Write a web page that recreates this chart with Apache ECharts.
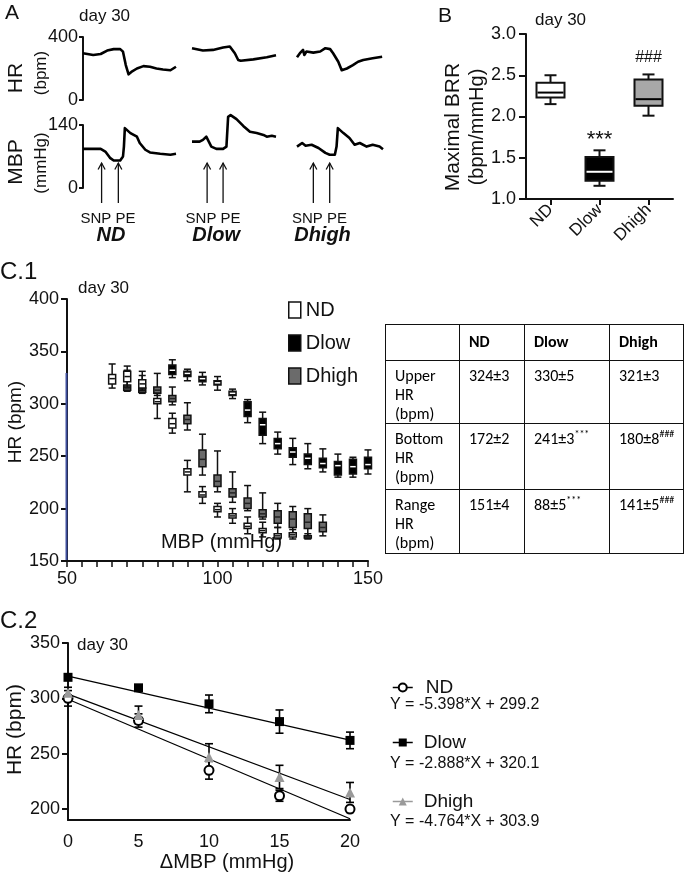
<!DOCTYPE html>
<html><head><meta charset="utf-8">
<script src="https://cdn.jsdelivr.net/npm/echarts@6/dist/echarts.min.js"></script>
<style>
html,body{margin:0;padding:0;background:#fff;}
#chart{position:absolute;left:0;top:0;width:685px;height:873px;}
#tbl{position:absolute;left:385px;top:324px;border-collapse:collapse;table-layout:fixed;font-family:Carlito,Lato,'Liberation Sans',sans-serif;font-size:16px;color:#000;}
#tbl td{border:1.5px solid #111;vertical-align:top;padding:5px 0 0 9px;line-height:19px;box-sizing:border-box;}
#tbl tr.h td{font-weight:bold;padding-top:7px;}
#tbl sup{font-size:10px;line-height:0;vertical-align:7px;}
</style></head><body>
<div id="chart"></div>
<table id="tbl"></table>
<script>
// ---------------- DATA ----------------
const groups = ['ND', 'Dlow', 'Dhigh'];
// Panel A traces: [time (% of trace window), value]
const ndHR = [[0,297],[11,286],[19,292],[26,314],[33,323],[40,323],[43,307],[46,222],[49,163],[52,178],[58,200],[65,215],[72,211],[79,200],[86,194],[94,189],[100,211]];
const ndMBP = [[0,87],[19,87],[24,81],[29,67],[33,61],[40,61],[43,70],[44,92],[45,133],[47,129],[51,122],[58,114],[61,100],[67,85],[72,79],[83,76],[94,74],[100,76]];
const dlowHR = [[0,329],[13,314],[25,318],[37,333],[45,340],[51,297],[55,254],[58,249],[73,258],[89,271],[100,284]];
const dlowMBP = [[0,103],[9,103],[13,107],[17,114],[19,111],[23,92],[29,87],[37,87],[41,92],[43,158],[46,162],[53,153],[61,138],[69,125],[77,122],[85,118],[89,114],[95,116],[100,114]];
const dhighHR = [[0,271],[4,301],[7,318],[8.5,286],[11,308],[19,301],[27,308],[33,329],[38.5,323],[42,297],[48,243],[52,189],[58,200],[65,221],[71,243],[77,254],[88,265],[99,275]];
const dhighMBP = [[0,92],[6,100],[10,94],[17,96],[25,89],[33,78],[38,74],[44,74],[46,92],[47.5,133],[54,122],[61,111],[67,96],[73,100],[81,92],[88,96],[96,92],[100,86]];
const arrowTimes = [[20, 38], [18, 37], [19, 38]]; // SNP, PE
const hrTicks = [0, 400];
const mbpTicks = [0, 140];

// Panel B: [min, Q1, median, Q3, max]
const brrND = [2.15, 2.23, 2.29, 2.41, 2.50];
const brrDlow = [1.16, 1.22, 1.33, 1.51, 1.59];
const brrDhigh = [2.01, 2.13, 2.21, 2.45, 2.51];
const brrSig = ['', '***', '###'];
const brrSigY = [null, 1.72, 2.71];

// Panel C.1: [MBP, min, Q1, median, Q3, max]
const c1ND = [[65,315,319,324,328,338],[70,316,321,326,331,336],[75,313,315,319,323,331],[80,286,300,302,305,310],[85,272,277,281,286,291],[90,216,232,235,238,246],[95,205,211,213,216,221],[100,192,197,199,202,205],[105,186,191,193,195,200],[110,176,181,183,186,192],[115,173,177,179,181,187],[120,171,172,174,176,182],[125,171,173,175,177,180],[130,171,172,173,174,176]];
const c1Dlow = [[85,325,328,332,337,342],[90,322,326,329,331,333],[95,318,321,324,326,330],[100,313,318,320,322,326],[105,305,308,310,312,314],[110,282,288,294,302,304],[115,262,270,280,286,292],[120,252,257,262,267,273],[125,242,249,254,258,267],[130,238,242,248,252,262],[135,235,239,243,248,257],[140,230,232,241,245,252],[145,230,233,240,247,249],[150,233,238,242,249,256]];
const c1Dhigh = [[70,312,313,315,318,332],[75,310,311,313,315,327],[80,308,310,313,316,329],[85,299,302,305,308,316],[90,275,281,285,289,301],[95,232,240,247,256,271],[100,216,221,226,232,255],[105,206,211,215,219,235],[110,198,200,205,210,222],[115,190,192,195,199,215],[120,182,186,192,198,205],[125,177,182,190,197,202],[130,172,181,187,195,200],[135,174,178,182,187,194]];

// Panel C.2
const dMBP = [0, 5, 10, 15, 20];
const c2ND = [300, 280, 235, 212, 200];
const c2NDerr = [7, 6, 8, 5, 3];
const c2Dlow = [319, 309.5, 295, 279, 262];
const c2DlowErr = [2, 1, 8, 10.5, 7.5];
const c2Dhigh = [305, 285, 247, 229, 215];
const c2DhighErr = [5, 8, 12, 10.5, 9];
const fitND = [[0, 299.2], [20, 191.2]];
const fitDlow = [[0, 320.1], [20, 262.3]];
const fitDhigh = [[0, 303.9], [20, 208.6]];
const c2Eq = ['Y = -5.398*X + 299.2', 'Y = -2.888*X + 320.1', 'Y = -4.764*X + 303.9'];
const c2YTicks = [200, 250, 300, 350];

// Table
const tblHeader = ['', 'ND', 'Dlow', 'Dhigh'];
const tblRowLabels = [['Upper', 'HR', '(bpm)'], ['Bottom', 'HR', '(bpm)'], ['Range', 'HR', '(bpm)']];
const upperHR = ['324±3', '330±5', '321±3'];
const bottomHR = ['172±2', '241±3', '180±8'];
const rangeHR = ['151±4', '88±5', '141±5'];
const bottomSig = ['', '***', '###'];
const rangeSig = ['', '***', '###'];

// ---------------- TABLE ----------------
(function () {
  const colW = [74, 65, 85, 74];
  const rowH = [36, 63, 66, 64];
  let html = '<colgroup>' + colW.map(w => '<col style="width:' + w + 'px">').join('') + '</colgroup>';
  html += '<tr class="h" style="height:' + rowH[0] + 'px">' + tblHeader.map(h => '<td>' + h + '</td>').join('') + '</tr>';
  const rows = [[upperHR, ['', '', '']], [bottomHR, bottomSig], [rangeHR, rangeSig]];
  rows.forEach((r, i) => {
    html += '<tr style="height:' + rowH[i + 1] + 'px"><td>' + tblRowLabels[i].join('<br>') + '</td>';
    r[0].forEach((v, j) => {
      html += '<td>' + v + (r[1][j] ? '<sup>' + r[1][j] + '</sup>' : '') + '</td>';
    });
    html += '</tr>';
  });
  document.getElementById('tbl').innerHTML = html;
})();

// ---------------- CHART ----------------
const FONT = '"Liberation Sans", Arial, Helvetica, sans-serif';
const BLACK = '#111';
const chart = echarts.init(document.getElementById('chart'), null, { renderer: 'canvas' });

const gridsPos = [
  { left: 83, top: 37, width: 93, height: 63 },
  { left: 83, top: 125, width: 93, height: 63 },
  { left: 192, top: 37, width: 84, height: 63 },
  { left: 192, top: 125, width: 84, height: 63 },
  { left: 297, top: 37, width: 86, height: 63 },
  { left: 297, top: 125, width: 86, height: 63 },
  { left: 526, top: 34, width: 147, height: 165 },
  { left: 67, top: 299, width: 301, height: 262 },
  { left: 68, top: 643, width: 282, height: 185 }
];

const axLine = { show: true, lineStyle: { color: BLACK, width: 2 } };
const lbl = (size, extra) => Object.assign({ color: BLACK, fontSize: size, fontFamily: FONT }, extra || {});

const xAxes = [], yAxes = [];
for (let i = 0; i < 6; i++) {
  xAxes.push({ gridIndex: i, type: 'value', min: 0, max: 100, show: false });
  const isHR = i % 2 === 0;
  const visible = i < 2;
  yAxes.push({
    gridIndex: i, type: 'value', min: 0, max: isHR ? 400 : 140,
    show: visible,
    axisLine: axLine,
    axisTick: { show: true, length: 4, lineStyle: { width: 2, color: BLACK }, customValues: isHR ? hrTicks : mbpTicks },
    axisLabel: lbl(18, { margin: 5, customValues: isHR ? hrTicks : mbpTicks }),
    splitLine: { show: false }
  });
}
// B
xAxes.push({
  gridIndex: 6, type: 'category', data: groups, boundaryGap: true,
  axisLine: axLine,
  axisTick: { show: true, alignWithLabel: true, length: 6, lineStyle: { width: 2, color: BLACK } },
  axisLabel: lbl(17, { rotate: 45, margin: 8 })
});
yAxes.push({
  gridIndex: 6, type: 'value', min: 1, max: 3, interval: 0.5,
  axisLine: axLine,
  axisTick: { show: true, length: 7, lineStyle: { width: 2, color: BLACK } },
  axisLabel: lbl(18, { margin: 10, formatter: v => v.toFixed(1) }),
  splitLine: { show: false }
});
// C.1
xAxes.push({
  gridIndex: 7, type: 'value', min: 50, max: 150, interval: 5,
  axisLine: axLine,
  axisTick: { show: true, length: 6, lineStyle: { width: 1.5, color: BLACK } },
  axisLabel: lbl(18, { margin: 9, formatter: v => (v % 50 === 0 ? String(v) : '') }),
  splitLine: { show: false },
  name: 'MBP (mmHg)', nameLocation: 'middle', nameGap: -29,
  nameTextStyle: lbl(20, { padding: [0, 0, 0, 8] })
});
yAxes.push({
  gridIndex: 7, type: 'value', min: 150, max: 400, interval: 50,
  axisLine: axLine,
  axisTick: { show: true, length: 6, lineStyle: { width: 2, color: BLACK } },
  axisLabel: lbl(18, { margin: 8 }),
  splitLine: { show: false },
  name: 'HR (bpm)', nameLocation: 'middle', nameGap: 42,
  nameTextStyle: lbl(19, { padding: [0, 0, 0, 16] })
});
// C.2
xAxes.push({
  gridIndex: 8, type: 'value', min: 0, max: 20, interval: 5,
  axisLine: axLine,
  axisTick: { show: false },
  axisLabel: lbl(18, { margin: 13 }),
  splitLine: { show: false },
  name: 'ΔMBP (mmHg)', nameLocation: 'middle', nameGap: 28,
  nameTextStyle: lbl(20, { padding: [0, 0, 0, 36] })
});
yAxes.push({
  gridIndex: 8, type: 'value', min: 190, max: 350,
  axisLine: axLine,
  axisTick: { show: true, length: 6, lineStyle: { width: 2, color: BLACK }, customValues: c2YTicks },
  axisLabel: lbl(18, { margin: 8, customValues: c2YTicks }),
  splitLine: { show: false },
  name: 'HR (bpm)', nameLocation: 'middle', nameGap: 42,
  nameTextStyle: lbl(21, { padding: [0, 0, 0, 4] })
});

const series = [];
// Panel A traces
[ndHR, ndMBP, dlowHR, dlowMBP, dhighHR, dhighMBP].forEach((d, i) => {
  series.push({
    type: 'line', xAxisIndex: i, yAxisIndex: i, data: d, showSymbol: false, symbol: 'none',
    clip: false, silent: true, lineStyle: { color: '#000', width: 2.6, join: 'round' }
  });
});

// Box renderer
function boxRenderer(bw, cw, lw, fillOf, medianOf) {
  return function (params, api) {
    const xv = api.value(0);
    const p = [1, 2, 3, 4, 5].map(k => api.coord([xv, api.value(k)]));
    const x = p[0][0];
    const fill = fillOf(params.dataIndex);
    const med = medianOf(params.dataIndex);
    const st = { stroke: BLACK, lineWidth: lw };
    return {
      type: 'group', children: [
        { type: 'line', shape: { x1: x, y1: p[4][1], x2: x, y2: p[3][1] }, style: st },
        { type: 'line', shape: { x1: x, y1: p[0][1], x2: x, y2: p[1][1] }, style: st },
        { type: 'line', shape: { x1: x - cw / 2, y1: p[4][1], x2: x + cw / 2, y2: p[4][1] }, style: st },
        { type: 'line', shape: { x1: x - cw / 2, y1: p[0][1], x2: x + cw / 2, y2: p[0][1] }, style: st },
        { type: 'rect', shape: { x: x - bw / 2, y: p[3][1], width: bw, height: p[1][1] - p[3][1] }, style: { fill: fill, stroke: BLACK, lineWidth: lw } },
        { type: 'line', shape: { x1: x - bw / 2 + lw / 2, y1: p[2][1], x2: x + bw / 2 - lw / 2, y2: p[2][1] }, style: { stroke: med, lineWidth: lw } }
      ]
    };
  };
}

// Panel B
const bFill = ['#fff', '#000', '#a8a8a8'];
const bMed = ['#000', '#fff', '#000'];
const bSigSize = [16, 22, 16];
series.push({
  type: 'custom', xAxisIndex: 6, yAxisIndex: 6, silent: true,
  data: [brrND, brrDlow, brrDhigh].map((d, i) => [i].concat(d)),
  encode: { x: 0, y: [1, 2, 3, 4, 5] },
  renderItem: boxRenderer(28, 12, 2, i => bFill[i], i => bMed[i])
});
series.push({
  type: 'custom', xAxisIndex: 6, yAxisIndex: 6, silent: true,
  data: brrSigY.map((y, i) => [i, y]).filter(d => d[1] !== null),
  encode: { x: 0, y: 1 },
  renderItem: function (params, api) {
    const i = api.value(0);
    const c = api.coord([i, api.value(1)]);
    return { type: 'text', x: c[0], y: c[1], style: { text: brrSig[i], fontSize: bSigSize[i], fontFamily: FONT, fill: BLACK, align: 'center', verticalAlign: 'middle' } };
  }
});

// Panel C.1 boxes
const c1Style = {
  ND: { fill: '#fff', med: BLACK },
  Dlow: { fill: '#000', med: '#fff' },
  Dhigh: { fill: '#6b6b6b', med: '#222' }
};
[['Dhigh', c1Dhigh], ['ND', c1ND], ['Dlow', c1Dlow]].forEach(([name, d]) => {
  series.push({
    name: name, type: 'custom', xAxisIndex: 7, yAxisIndex: 7, silent: true, data: d,
    encode: { x: 0, y: [1, 2, 3, 4, 5] },
    itemStyle: { color: c1Style[name].fill, borderColor: BLACK, borderWidth: 1.5 },
    renderItem: boxRenderer(7, 7, 1.5, () => c1Style[name].fill, () => c1Style[name].med)
  });
});

// Panel C.2
const c2Sets = [
  { key: 'c2ND', label: 'ND', mean: c2ND, err: c2NDerr, fit: fitND, symbol: 'circle', size: 9, style: { color: '#fff', borderColor: '#000', borderWidth: 2 }, line: '#000' },
  { key: 'c2Dlow', label: 'Dlow', mean: c2Dlow, err: c2DlowErr, fit: fitDlow, symbol: 'rect', size: 9, style: { color: '#000', borderColor: '#000', borderWidth: 0 }, line: '#000' },
  { key: 'c2Dhigh', label: 'Dhigh', mean: c2Dhigh, err: c2DhighErr, fit: fitDhigh, symbol: 'triangle', size: 10, style: { color: '#9a9a9a', borderColor: '#9a9a9a', borderWidth: 0 }, line: '#9a9a9a' }
];
c2Sets.forEach(s => {
  series.push({
    type: 'line', xAxisIndex: 8, yAxisIndex: 8, data: s.fit, symbol: 'none', silent: true,
    lineStyle: { color: '#000', width: 1.3 }
  });
});
c2Sets.forEach(s => {
  series.push({
    type: 'custom', xAxisIndex: 8, yAxisIndex: 8, silent: true,
    data: dMBP.map((x, i) => [x, s.mean[i], s.err[i]]),
    encode: { x: 0, y: 1 },
    renderItem: function (params, api) {
      const x = api.value(0), m = api.value(1), e = api.value(2);
      const hi = api.coord([x, m + e]), lo = api.coord([x, m - e]);
      const st = { stroke: '#000', lineWidth: 1.6 };
      return {
        type: 'group', children: [
          { type: 'line', shape: { x1: hi[0], y1: hi[1], x2: lo[0], y2: lo[1] }, style: st },
          { type: 'line', shape: { x1: hi[0] - 4, y1: hi[1], x2: hi[0] + 4, y2: hi[1] }, style: st },
          { type: 'line', shape: { x1: lo[0] - 4, y1: lo[1], x2: lo[0] + 4, y2: lo[1] }, style: st }
        ]
      };
    }
  });
});
c2Sets.forEach(s => {
  series.push({
    name: s.key, type: 'line', xAxisIndex: 8, yAxisIndex: 8, silent: true, z: 5,
    data: dMBP.map((x, i) => [x, s.mean[i]]),
    symbol: s.symbol, symbolSize: s.size, showAllSymbol: true,
    itemStyle: s.style,
    lineStyle: { opacity: 0, width: 0 }
  });
});

const legends = [
  {
    orient: 'vertical', left: 283, top: 295, itemWidth: 12, itemHeight: 16, itemGap: 13,
    selectedMode: false,
    textStyle: lbl(20),
    data: groups.map(g => ({ name: g, icon: 'rect', itemStyle: { color: c1Style[g].fill, borderColor: BLACK, borderWidth: 1.5 } }))
  }
];
const c2LegTop = [673, 728, 787];
const c2TextPad = [8, 6, 6];
c2Sets.forEach((s, i) => {
  legends.push({
    left: 387, top: c2LegTop[i], itemWidth: 20, itemHeight: 10, selectedMode: false,
    data: [{ name: s.key, itemStyle: s.style }],
    lineStyle: { color: s.line, width: 1.5, opacity: 1, type: 'solid' },
    formatter: () => s.label,
    textStyle: lbl(19, { padding: [0, 0, 0, c2TextPad[i]] })
  });
});

chart.setOption({
  animation: false,
  backgroundColor: '#fff',
  textStyle: { fontFamily: FONT },
  grid: gridsPos,
  xAxis: xAxes,
  yAxis: yAxes,
  legend: legends,
  series: series
});

// ---------------- ANNOTATIONS ----------------
function txt(text, x, y, size, extra) {
  return {
    type: 'text', x: x, y: y, rotation: (extra && extra.rot) || 0, silent: true, z: 100,
    style: {
      text: text, fontSize: size, fontFamily: FONT, fill: BLACK,
      fontWeight: (extra && extra.weight) || 'normal', fontStyle: (extra && extra.style) || 'normal',
      align: (extra && extra.align) || 'left', verticalAlign: 'middle'
    }
  };
}
const R = Math.PI / 2;
const g = [
  txt('A', 5, 13, 21),
  txt('day 30', 79, 16, 17),
  txt('HR', 16, 78, 21, { rot: R, align: 'center' }),
  txt('(bpm)', 41, 73, 17, { rot: R, align: 'center' }),
  txt('MBP', 16, 162, 21, { rot: R, align: 'center' }),
  txt('(mmHg)', 41, 163, 17, { rot: R, align: 'center' }),
  txt('B', 438, 16, 21),
  txt('day 30', 535, 20, 17),
  txt('Maximal BRR', 453, 127, 21, { rot: R, align: 'center' }),
  txt('(bpm/mmHg)', 477, 127, 20, { rot: R, align: 'center' }),
  txt('C.1', 0, 272, 24),
  txt('day 30', 78, 288, 17),
  txt('C.2', 0, 621, 24),
  txt('day 30', 77, 645, 17),
  { type: 'line', silent: true, z: 99, shape: { x1: 66.5, y1: 373, x2: 66.5, y2: 560 }, style: { stroke: '#3f4f9e', lineWidth: 2 } }
];
const eqY = [705, 764, 822];
c2Eq.forEach((e, i) => g.push(txt(e, 390, eqY[i], 16)));

const groupLabelY = 235;
arrowTimes.forEach((ts, gi) => {
  const axisIdx = gi * 2 + 1;
  const xs = ts.map(t => chart.convertToPixel({ xAxisIndex: axisIdx }, t));
  xs.forEach(x => {
    g.push({ type: 'polyline', silent: true, z: 100, shape: { points: [[x, 203], [x, 163]] }, style: { stroke: BLACK, lineWidth: 1.3, fill: null } });
    g.push({ type: 'polyline', silent: true, z: 100, shape: { points: [[x - 3.5, 169.5], [x, 163], [x + 3.5, 169.5]] }, style: { stroke: BLACK, lineWidth: 1.3, fill: null } });
  });
  const mid = (xs[0] + xs[1]) / 2;
  g.push(txt('SNP PE', mid - 2, 219, 15, { align: 'center' }));
  g.push(txt(groups[gi], mid + 1, groupLabelY, 20, { align: 'center', weight: 'bold', style: 'italic' }));
});
chart.setOption({ graphic: g });
</script>
</body></html>
